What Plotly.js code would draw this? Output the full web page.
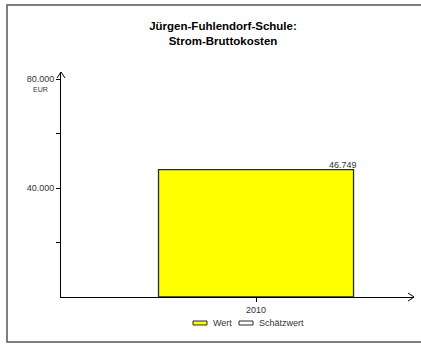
<!DOCTYPE html>
<html><head><meta charset="utf-8">
<script src="https://cdn.plot.ly/plotly-3.0.1.min.js"></script>
<style>html,body{margin:0;padding:0;background:#fff;overflow:hidden;}#chart{width:421px;height:345px;}</style>
</head><body><div id="chart"></div>
<script>
const categories = ['2010'];
const wert = [46749];
const schaetzwert = [null];
const seriesNames = ['Wert', 'Schätzwert'];
const seriesColors = ['#FFFF00', '#FFFFFF'];
const yTickVals = [20000, 40000, 60000, 80000];
const yTickText = ['', '40.000', '', '80.000'];
const valueLabels = ['46.749'];
const titleLines = ['Jürgen-Fuhlendorf-Schule:', 'Strom-Bruttokosten'];
const unitLabel = 'EUR';

const W = 421, H = 345, L = 61, R = 7, T = 72, B = 48;
const pw = W - L - R, ph = H - T - B;
const px = x => (x - L) / pw;
const py = y => (H - B - y) / ph;

const font = 'Liberation Sans, Arial, sans-serif';

const traces = [
  {type: 'bar', name: seriesNames[0], x: categories, y: wert, width: 1,
   marker: {color: seriesColors[0], line: {color: '#2a2a2a', width: 1.3}},
   hoverinfo: 'none', showlegend: false},
  {type: 'bar', name: seriesNames[1], x: categories, y: schaetzwert, width: 1,
   marker: {color: seriesColors[1], line: {color: '#2a2a2a', width: 1.3}},
   hoverinfo: 'none', showlegend: false}
];

const shapes = [
  // frame (open on the right, as in the reference)
  {type: 'path', xref: 'paper', yref: 'paper',
   path: `M ${px(421)} ${py(5)} L ${px(7)} ${py(5)} L ${px(7)} ${py(342)} L ${px(421)} ${py(342)}`,
   line: {color: '#555555', width: 1.5}},
  // y arrow
  {type: 'path', xref: 'paper', yref: 'paper',
   path: `M ${px(57)} ${py(78)} L ${px(61)} ${py(72)} L ${px(65)} ${py(78)}`,
   line: {color: '#000', width: 1}},
  // x arrow
  {type: 'path', xref: 'paper', yref: 'paper',
   path: `M ${px(408)} ${py(293)} L ${px(414)} ${py(297)} L ${px(408)} ${py(301)}`,
   line: {color: '#000', width: 1}},
  // legend swatches
  {type: 'rect', xref: 'paper', yref: 'paper', x0: px(193), x1: px(207), y0: py(325), y1: py(321),
   fillcolor: seriesColors[0], line: {color: '#2a2a2a', width: 1}},
  {type: 'rect', xref: 'paper', yref: 'paper', x0: px(239), x1: px(253), y0: py(325), y1: py(321),
   fillcolor: seriesColors[1], line: {color: '#2a2a2a', width: 1}}
];

const annotations = [
  {xref: 'paper', yref: 'paper', x: px(40), y: py(90), text: unitLabel, showarrow: false,
   font: {family: font, size: 7, color: '#333'}, xanchor: 'center', yanchor: 'middle'},
  {xref: 'x', yref: 'y', x: 0.5, y: wert[0], text: valueLabels[0], showarrow: false,
   xanchor: 'right', yanchor: 'bottom', xshift: 5, yshift: -2,
   font: {family: font, size: 9, color: '#333'}},
  {xref: 'paper', yref: 'paper', x: px(211), y: py(323), text: seriesNames[0], showarrow: false,
   xanchor: 'left', yanchor: 'middle', font: {family: font, size: 9, color: '#333'}},
  {xref: 'paper', yref: 'paper', x: px(257), y: py(323), text: seriesNames[1], showarrow: false,
   xanchor: 'left', yanchor: 'middle', font: {family: font, size: 9, color: '#333'}}
];

const layout = {
  width: W, height: H,
  margin: {l: L, r: R, t: T, b: B, pad: 0},
  paper_bgcolor: '#fff', plot_bgcolor: '#fff',
  separators: ',.',
  showlegend: false,
  barmode: 'overlay',
  title: {text: '<b>' + titleLines.join('<br>') + '</b>',
    font: {family: font, size: 11.5, color: '#000'},
    x: 223 / W, xref: 'container', xanchor: 'center',
    y: 1 - 30 / H, yref: 'container', yanchor: 'middle'},
  xaxis: {type: 'category', range: [-1, 0.81], showgrid: false, zeroline: false,
    showline: true, linecolor: '#000', linewidth: 1,
    ticks: 'outside', ticklen: 4, tickcolor: '#000', tickwidth: 1,
    tickfont: {family: font, size: 9, color: '#333'}, fixedrange: true},
  yaxis: {range: [0, 82570], showgrid: false, zeroline: false,
    showline: true, linecolor: '#000', linewidth: 1,
    tickvals: yTickVals, ticktext: yTickText,
    ticks: 'outside', ticklen: 4, tickcolor: '#000', tickwidth: 1,
    tickfont: {family: font, size: 9, color: '#333'}, fixedrange: true},
  shapes: shapes,
  annotations: annotations
};

Plotly.newPlot('chart', traces, layout, {staticPlot: true, displayModeBar: false});
</script></body></html>
